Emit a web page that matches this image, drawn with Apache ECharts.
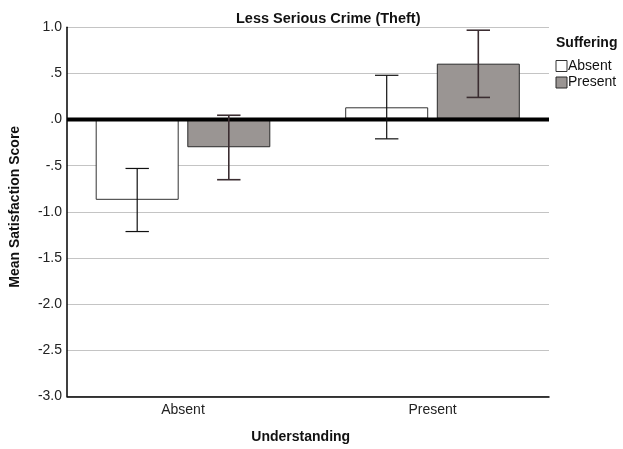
<!DOCTYPE html>
<html>
<head>
<meta charset="utf-8">
<script src="https://cdn.jsdelivr.net/npm/echarts@6/dist/echarts.min.js"></script>
<style>html,body{margin:0;padding:0;background:#fff}#c{width:623px;height:449px}</style>
</head>
<body>
<div id="c"></div>
<script>
var categories = ['Absent', 'Present'];
var seriesNames = ['Absent', 'Present'];
var meanAbsent = [-0.887, 0.125];
var meanPresent = [-0.312, 0.602];
var lowAbsent = [-1.234, -0.22];
var highAbsent = [-0.544, 0.475];
var lowPresent = [-0.667, 0.233];
var highPresent = [0.038, 0.968];
var yTicks = [-3, -2.5, -2, -1.5, -1, -0.5, 0, 0.5, 1];

var FONT = 'Liberation Sans';
var BAR_W = 83, GAP = 8.6;

function fmt(v) {
  var s = Math.abs(v).toFixed(1);
  if (Math.abs(v) < 1) s = s.substring(1);
  return (v < 0 ? '-' : '') + s;
}

function errSeries(name, lows, highs, sideSign, color, width) {
  var data = categories.map(function (c, i) { return [i, lows[i], highs[i]]; });
  return {
    type: 'custom',
    name: name + ' err',
    xAxisIndex: 1, yAxisIndex: 1,
    z: 10,
    data: data,
    renderItem: function (params, api) {
      var i = api.value(0);
      var lo = api.coord([i, api.value(1)]);
      var hi = api.coord([i, api.value(2)]);
      var x = lo[0] + sideSign * (BAR_W + GAP) / 2;
      var hw = 11.7;
      var st = { stroke: color, lineWidth: width };
      return {
        type: 'group',
        children: [
          { type: 'line', shape: { x1: x, y1: lo[1], x2: x, y2: hi[1] }, style: st },
          { type: 'line', shape: { x1: x - hw, y1: lo[1], x2: x + hw, y2: lo[1] }, style: st },
          { type: 'line', shape: { x1: x - hw, y1: hi[1], x2: x + hw, y2: hi[1] }, style: st }
        ]
      };
    }
  };
}

var chart = echarts.init(document.getElementById('c'), null, { renderer: 'canvas' });
chart.setOption({
  animation: false,
  backgroundColor: '#fff',
  textStyle: { fontFamily: FONT },
  title: [
    { text: 'Less Serious Crime (Theft)', left: 231, top: 6,
      textStyle: { fontFamily: FONT, fontWeight: 'bold', fontSize: 14.5, color: '#111' } },
    { text: 'Suffering', left: 556, top: 36, padding: 0,
      textStyle: { fontFamily: FONT, fontWeight: 'bold', fontSize: 14, color: '#111' } }
  ],
  legend: {
    data: seriesNames,
    orient: 'vertical',
    left: 555.5, top: 59,
    padding: 0,
    itemWidth: 11, itemHeight: 11, itemGap: 2.5,
    itemStyle: { borderWidth: 1 },
    textStyle: { fontFamily: FONT, fontSize: 14, color: '#111', padding: [0, 0, 0, -4] },
    icon: 'rect'
  },
  grid: [
    { left: 67, right: 74, top: 27.3, bottom: 52.7 },
    { left: 58.25, right: 65.75, top: 27.3, bottom: 52.7 }
  ],
  xAxis: [
    { type: 'value', gridIndex: 0, min: 0, max: 1,
      axisLine: { show: true, onZero: false, lineStyle: { color: '#000', width: 1.5 } },
      axisTick: { show: false }, axisLabel: { show: false }, splitLine: { show: false } },
    { type: 'category', gridIndex: 1, data: categories,
      axisLine: { show: false }, axisTick: { show: false },
      axisLabel: { fontFamily: FONT, fontSize: 14, color: '#222', margin: 10 },
      name: 'Understanding', nameLocation: 'middle', nameGap: 37,
      nameTextStyle: { fontFamily: FONT, fontWeight: 'bold', fontSize: 14, color: '#111', padding: [0, 14, 0, 0] } }
  ],
  yAxis: [
    { type: 'value', gridIndex: 0, min: -3, max: 1, interval: 0.5,
      axisLine: { show: true, lineStyle: { color: '#000', width: 1.5 } },
      axisTick: { show: false },
      axisLabel: { fontFamily: FONT, fontSize: 14, color: '#222', margin: 5, formatter: fmt },
      splitLine: { show: true, lineStyle: { color: '#c4c4c4', width: 1 } },
      name: 'Mean Satisfaction Score', nameLocation: 'middle', nameGap: 45,
      nameTextStyle: { fontFamily: FONT, fontWeight: 'bold', fontSize: 14, color: '#111', padding: [0, 0, 0, 10] } },
    { type: 'value', gridIndex: 1, min: -3, max: 1, interval: 0.5, show: false,
      splitLine: { show: false } }
  ],
  series: [
    { type: 'bar', name: seriesNames[0], xAxisIndex: 1, yAxisIndex: 1,
      data: meanAbsent, barWidth: BAR_W, barGap: (GAP / BAR_W * 100) + '%',
      itemStyle: { color: '#ffffff', borderColor: '#333', borderWidth: 1 } },
    { type: 'bar', name: seriesNames[1], xAxisIndex: 1, yAxisIndex: 1,
      data: meanPresent, barWidth: BAR_W,
      itemStyle: { color: '#9a9593', borderColor: '#2a2a2a', borderWidth: 1 } },
    { type: 'line', xAxisIndex: 0, yAxisIndex: 0, data: [[0, 0], [1, 0]],
      symbol: 'none', silent: true, z: 5,
      lineStyle: { color: '#000', width: 4 } },
    errSeries(seriesNames[0], lowAbsent, highAbsent, -1, '#111', 1.2),
    errSeries(seriesNames[1], lowPresent, highPresent, 1, '#3b2d31', 1.6)
  ]
});
</script>
</body>
</html>
